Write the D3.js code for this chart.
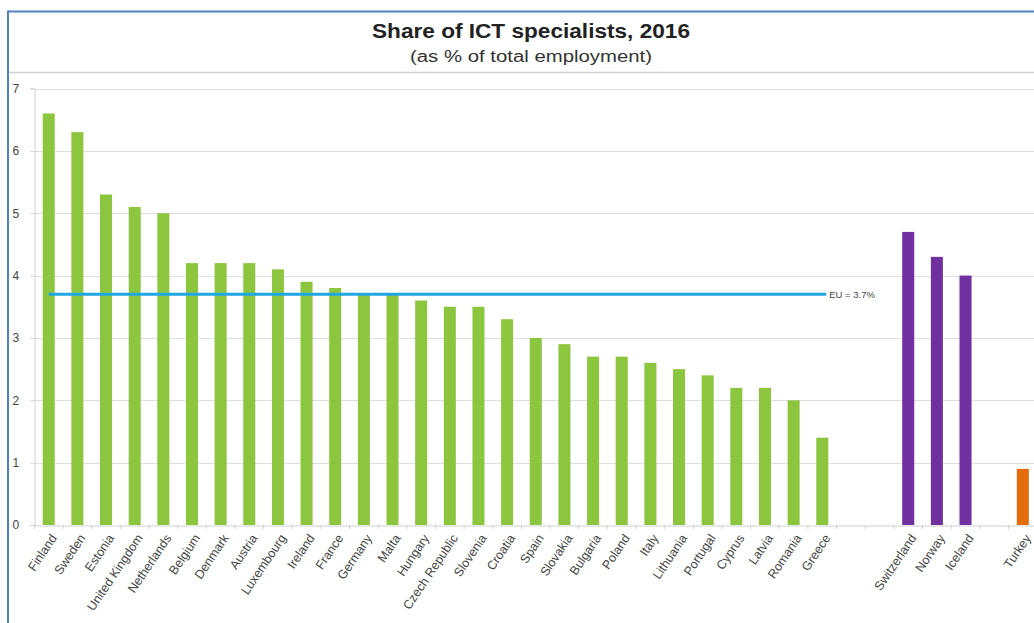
<!DOCTYPE html>
<html><head><meta charset="utf-8">
<script src="https://cdn.jsdelivr.net/npm/d3@7"></script>
<style>body{margin:0;background:#fff}svg{display:block;font-family:"Liberation Sans",Arial,sans-serif}</style>
</head><body>
<svg id="c" width="1034" height="623"></svg>
<script>
const categories = ["Finland","Sweden","Estonia","United Kingdom","Netherlands","Belgium","Denmark","Austria","Luxembourg","Ireland","France","Germany","Malta","Hungary","Czech Republic","Slovenia","Croatia","Spain","Slovakia","Bulgaria","Poland","Italy","Lithuania","Portugal","Cyprus","Latvia","Romania","Greece","","  ","Switzerland","Norway","Iceland","   ","Turkey"];
const values = [6.6,6.3,5.3,5.1,5.0,4.2,4.2,4.2,4.1,3.9,3.8,3.7,3.7,3.6,3.5,3.5,3.3,3.0,2.9,2.7,2.7,2.6,2.5,2.4,2.2,2.2,2.0,1.4,null,null,4.7,4.3,4.0,null,0.9];
const groups = ["EU","EU","EU","EU","EU","EU","EU","EU","EU","EU","EU","EU","EU","EU","EU","EU","EU","EU","EU","EU","EU","EU","EU","EU","EU","EU","EU","EU","","","EFTA","EFTA","EFTA","","Candidate"];
const yTicks = [0,1,2,3,4,5,6,7];
const euAverage = 3.7;
const euLabel = "EU = 3.7%";
const title = "Share of ICT specialists, 2016";
const subtitle = "(as % of total employment)";

const colors = {EU:"#8cc63f", EFTA:"#7030a0", Candidate:"#e46c0a"};
const svg = d3.select("#c");

// frame
svg.append("line").attr("x1",8).attr("x2",1034).attr("y1",11.5).attr("y2",11.5).attr("stroke","#4f81bd").attr("stroke-width",2);
svg.append("line").attr("x1",8).attr("x2",8).attr("y1",10.5).attr("y2",623).attr("stroke","#4f81bd").attr("stroke-width",2);
svg.append("line").attr("x1",9).attr("x2",1034).attr("y1",72.5).attr("y2",72.5).attr("stroke","#d0d0d0").attr("stroke-width",1.5);

svg.append("text").attr("x",531).attr("y",38).attr("text-anchor","middle").attr("font-size",19.5).attr("font-weight","bold").attr("fill","#222")
  .attr("textLength",318).attr("lengthAdjust","spacingAndGlyphs").text(title);
svg.append("text").attr("x",531).attr("y",62).attr("text-anchor","middle").attr("font-size",16).attr("fill","#333")
  .attr("textLength",242).attr("lengthAdjust","spacingAndGlyphs").text(subtitle);

const x = d3.scaleBand().domain(categories).range([34.4, 34.4 + 35*28.65]).paddingInner(0.58).paddingOuter(0.29);
const y = d3.scaleLinear().domain([0,7]).range([525, 88.5]);

// gridlines
svg.append("g").selectAll("line").data(yTicks.filter(d=>d>0)).join("line")
  .attr("x1",34.5).attr("x2",1034).attr("y1",d=>Math.round(y(d))+0.5).attr("y2",d=>Math.round(y(d))+0.5)
  .attr("stroke","#dedede").attr("stroke-width",1);

// y axis
const yAxis = svg.append("g").attr("transform","translate(34.5,0)")
  .call(d3.axisLeft(y).tickValues(yTicks).tickSize(4).tickPadding(8).tickFormat(d3.format("d")));
yAxis.select(".domain").attr("stroke","#d0d0d0");
yAxis.selectAll(".tick line").attr("stroke","#d0d0d0");
yAxis.selectAll("text").attr("font-size",12).attr("fill","#444").attr("font-family","Liberation Sans, Arial, sans-serif").attr("text-anchor","start").attr("x",-22);

// bars
const data = categories.map((c,i)=>({c, v:values[i], g:groups[i]})).filter(d=>d.v!=null);
svg.append("g").selectAll("rect").data(data).join("rect")
  .attr("x",d=>x(d.c)).attr("width",x.bandwidth())
  .attr("y",d=>y(d.v)).attr("height",d=>y(0)-y(d.v))
  .attr("fill",d=>colors[d.g]);

// x axis
const xAxis = svg.append("g").attr("transform","translate(0,525.5)")
  .call(d3.axisBottom(x).tickSize(0).tickPadding(0));
xAxis.select(".domain").attr("stroke","#d0d0d0");
const step = x.step();
svg.append("g").selectAll("line").data(d3.range(36)).join("line")
  .attr("x1",i=>34.4+i*step).attr("x2",i=>34.4+i*step).attr("y1",525).attr("y2",529)
  .attr("stroke","#d0d0d0");
xAxis.selectAll(".tick text")
  .attr("font-size",12.5).attr("fill","#444").attr("font-family","Liberation Sans, Arial, sans-serif")
  .attr("text-anchor","end").attr("dy","0.35em")
  .attr("transform","translate(5,10) rotate(-56)");

// EU average line
const euCats = categories.filter((c,i)=>groups[i]==="EU");
const x1 = x(euCats[0]) + x.bandwidth()/2, x2 = x(euCats[euCats.length-1]) + x.bandwidth()/2 + 4;
svg.append("line").attr("x1",x1).attr("x2",x2).attr("y1",y(euAverage)).attr("y2",y(euAverage))
  .attr("stroke","#1fa6e3").attr("stroke-width",3);
svg.append("text").attr("x",x2+3).attr("y",y(euAverage)+3.5).attr("font-size",9.5).attr("fill","#444").text(euLabel);
</script>
</body></html>
